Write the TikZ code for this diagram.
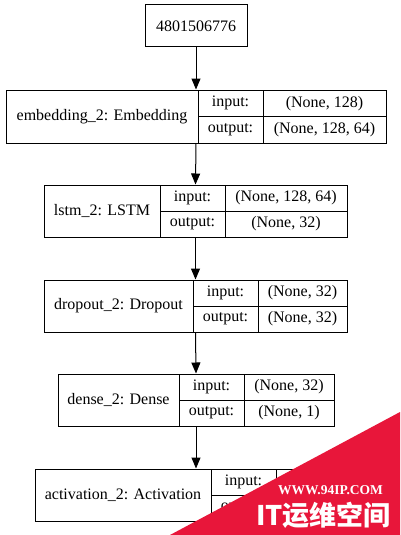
\documentclass[tikz,border=0pt]{standalone}
\usepackage{fontspec}
\setmainfont{Liberation Serif}
\newfontfamily\cjk{Noto Sans CJK SC}
\usetikzlibrary{arrows.meta}
\definecolor{wmred}{RGB}{232,22,58}
\begin{document}
\begin{tikzpicture}[x=1pt,y=-1pt,
  cell/.style={draw, line width=1pt, inner sep=0pt, font=\fontsize{16}{19}\selectfont},
  outer/.style={draw, line width=1pt, inner sep=0pt},
  conn/.style={line width=1pt, -{Triangle[length=11pt,width=9pt]}}]
\useasboundingbox (0,0) rectangle (400,535);
\fill[white] (0,0) rectangle (400,535);
% top node
\node[cell, minimum width=102pt, minimum height=42pt] (top) at (196,26) {4801506776};
% embedding
\node[outer, minimum width=380pt, minimum height=53pt] (emb) at (196,116.5) {};
\node[cell, minimum width=192pt, minimum height=53pt] (embL) at (102,116.5) {embedding\_2: Embedding};
\node[cell, minimum width=65pt, minimum height=26.5pt] (embI) at (230.5,103.25) {input:};
\node[cell, minimum width=65pt, minimum height=26.5pt] (embO) at (230.5,129.75) {output:};
\node[cell, minimum width=123pt, minimum height=26.5pt] (embIV) at (324.5,103.25) {(None, 128)};
\node[cell, minimum width=123pt, minimum height=26.5pt] (embOV) at (324.5,129.75) {(None, 128, 64)};
% lstm
\node[outer, minimum width=303pt, minimum height=52pt] (lstm) at (195.5,211) {};
\node[cell, minimum width=116pt, minimum height=52pt] (lstmL) at (102,211) {lstm\_2: LSTM};
\node[cell, minimum width=65pt, minimum height=26pt] (lstmI) at (192.5,198) {input:};
\node[cell, minimum width=65pt, minimum height=26pt] (lstmO) at (192.5,224) {output:};
\node[cell, minimum width=122pt, minimum height=26pt] (lstmIV) at (286,198) {(None, 128, 64)};
\node[cell, minimum width=122pt, minimum height=26pt] (lstmOV) at (286,224) {(None, 32)};
% dropout
\node[outer, minimum width=303pt, minimum height=52pt] (drop) at (195.5,306) {};
\node[cell, minimum width=149pt, minimum height=52pt] (dropL) at (118.5,306) {dropout\_2: Dropout};
\node[cell, minimum width=65pt, minimum height=26pt] (dropI) at (225.5,293) {input:};
\node[cell, minimum width=65pt, minimum height=26pt] (dropO) at (225.5,319) {output:};
\node[cell, minimum width=89pt, minimum height=26pt] (dropIV) at (302.5,293) {(None, 32)};
\node[cell, minimum width=89pt, minimum height=26pt] (dropOV) at (302.5,319) {(None, 32)};
% dense
\node[outer, minimum width=276pt, minimum height=52pt] (dense) at (196,400) {};
\node[cell, minimum width=121pt, minimum height=52pt] (denseL) at (118.5,400) {dense\_2: Dense};
\node[cell, minimum width=65pt, minimum height=26pt] (denseI) at (211.5,387) {input:};
\node[cell, minimum width=65pt, minimum height=26pt] (denseO) at (211.5,413) {output:};
\node[cell, minimum width=90pt, minimum height=26pt] (denseIV) at (289,387) {(None, 32)};
\node[cell, minimum width=90pt, minimum height=26pt] (denseOV) at (289,413) {(None, 1)};
% activation
\node[outer, minimum width=322pt, minimum height=52pt] (act) at (196,495) {};
\node[cell, minimum width=176pt, minimum height=52pt] (actL) at (123,495) {activation\_2: Activation};
\node[cell, minimum width=65pt, minimum height=26pt] (actI) at (243.5,482) {input:};
\node[cell, minimum width=65pt, minimum height=26pt] (actO) at (243.5,508) {output:};
\node[cell, minimum width=81pt, minimum height=26pt] (actIV) at (316.5,482) {};
\node[cell, minimum width=81pt, minimum height=26pt] (actOV) at (316.5,508) {};
% connectors
\draw[conn] (top.south) -- (emb.north);
\draw[conn] (emb.south) -- (lstm.north);
\draw[conn] (lstm.south) -- (drop.north);
\draw[conn] (drop.south) -- (dense.north);
\draw[conn] (dense.south) -- (act.north);
% watermark
\fill[wmred] (170,535) -- (400,412) -- (400,535) -- cycle;
\node[text=white, font=\bfseries\fontsize{13.5}{15}\selectfont, inner sep=0pt] (wm1) at (330.5,490) {WWW.94IP.COM};
\node[text=white, font=\cjk\bfseries\fontsize{27}{30}\selectfont, inner sep=0pt] (wm2) at (323.5,515) {IT运维空间};
\end{tikzpicture}
\end{document}
